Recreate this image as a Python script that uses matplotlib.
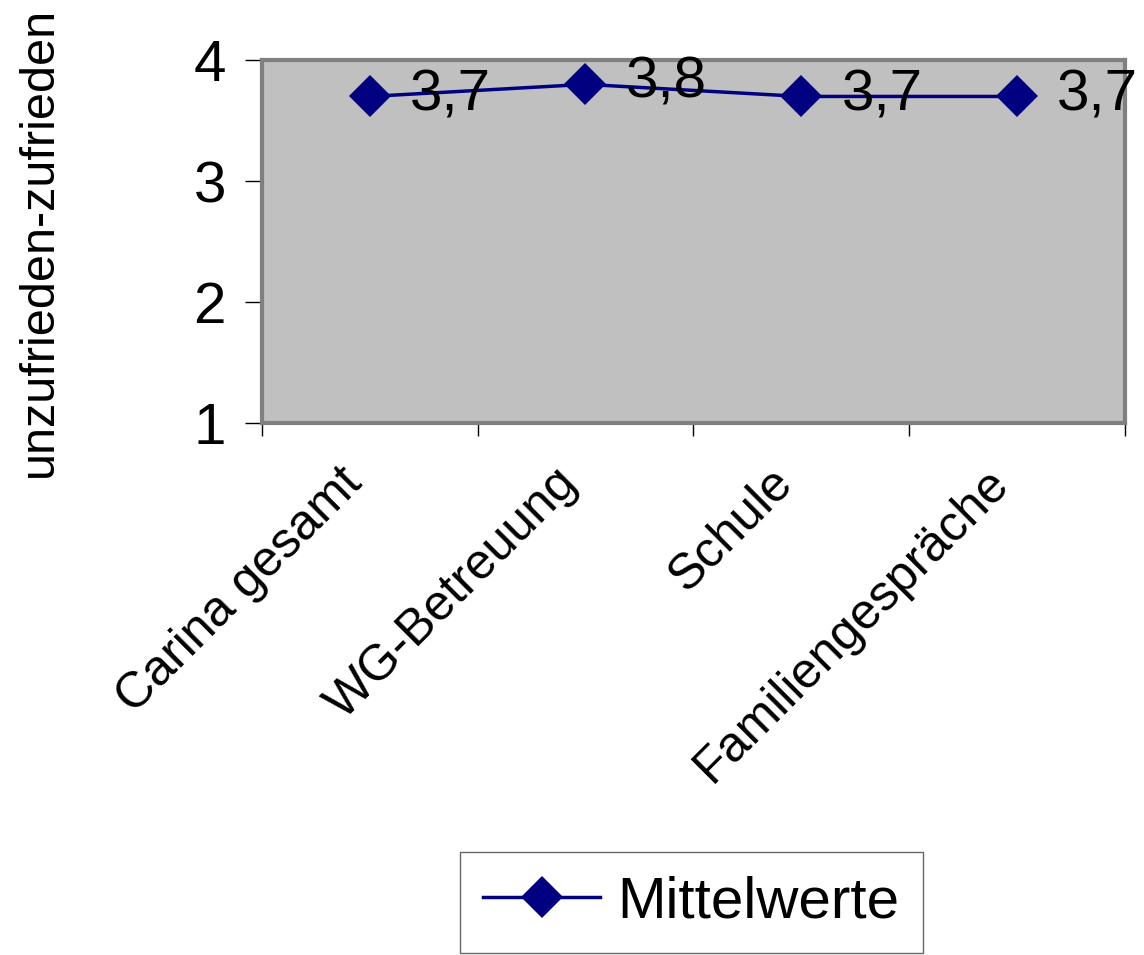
import matplotlib
matplotlib.use("Agg")
import matplotlib.pyplot as plt
from matplotlib.transforms import ScaledTranslation

# Mittelwerte je Bereich (Skala 1 = unzufrieden ... 4 = zufrieden)
kategorien = ["Carina gesamt", "WG-Betreuung", "Schule", "Familiengespräche"]
mittelwerte = [3.7, 3.8, 3.7, 3.7]
y_ticks = [1, 2, 3, 4]

plt.rcParams["font.family"] = ["Liberation Sans", "DejaVu Sans"]

fig = plt.figure(figsize=(11.44, 9.55), dpi=100)
ax = fig.add_axes([0.229, 0.557, 0.754, 0.380])
ax.set_facecolor("#C0C0C0")

x = list(range(len(kategorien)))
ax.plot(x, mittelwerte, color="#000080", lw=2.5, marker="D", ms=21,
        markeredgewidth=0, label="Mittelwerte", zorder=3)

for xi, v in zip(x, mittelwerte):
    ax.annotate(f"{v:.1f}".replace(".", ","), (xi, v), xytext=(29, 1),
                textcoords="offset points", ha="left", va="center",
                fontsize=42, zorder=4, annotation_clip=False)

ax.set_xlim(-0.5, len(kategorien) - 0.5)
ax.set_ylim(1, 4)
ax.set_yticks(y_ticks)
ax.set_yticklabels([str(t) for t in y_ticks], fontsize=42)

# Trennstriche zwischen den Kategorien
ax.set_xticks([i - 0.5 for i in range(len(kategorien) + 1)])
ax.set_xticklabels([])
ax.tick_params(axis="x", which="major", length=9, width=1, direction="out")
ax.set_xticks(x, minor=True)
ax.set_xticklabels(kategorien, minor=True, rotation=45, ha="right",
                   va="center", rotation_mode="anchor", fontsize=36)
ax.tick_params(axis="x", which="minor", length=0, pad=38)
shift = ScaledTranslation(-0.15, 0, fig.dpi_scale_trans)
for lbl in ax.get_xticklabels(minor=True):
    lbl.set_transform(lbl.get_transform() + shift)
ax.tick_params(axis="y", length=12, width=1, direction="out", pad=14)

for side in ["top", "right", "left", "bottom"]:
    ax.spines[side].set_color("#808080")
    ax.spines[side].set_linewidth(3)

ax.set_ylabel("unzufrieden-zufrieden", fontsize=35)
ax.yaxis.set_label_coords(-0.232, 0.5)

leg = fig.legend(loc="center", bbox_to_anchor=(0.6045, 0.055), fontsize=42,
                 frameon=True, fancybox=False, borderpad=0.4,
                 handlelength=2.0, handletextpad=0.3, borderaxespad=0)
leg.get_frame().set_edgecolor("#404040")
leg.get_frame().set_linewidth(1)

fig.savefig("out.png", dpi=100, facecolor="white")
